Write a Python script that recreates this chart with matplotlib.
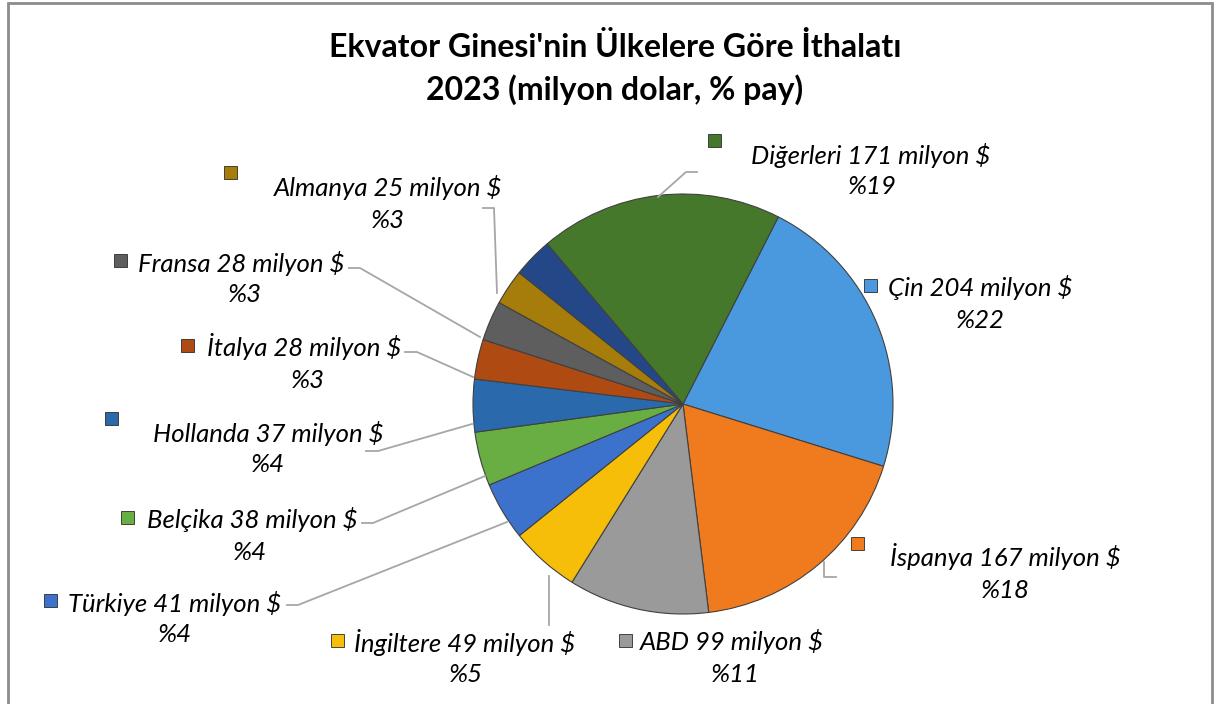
import matplotlib
matplotlib.use('Agg')
import matplotlib.pyplot as plt
from matplotlib.patches import Rectangle
from matplotlib.lines import Line2D

# ---- data ----
countries = ['Çin', 'İspanya', 'ABD', 'İngiltere', 'Türkiye', 'Belçika',
             'Hollanda', 'İtalya', 'Fransa', 'Almanya', '', 'Diğerleri']
values = [204, 167, 99, 49, 41, 38, 37, 28, 28, 25, 28, 171]
pct_labels = ['%22', '%18', '%11', '%5', '%4', '%4', '%4', '%3', '%3', '%3', '', '%19']
title = "Ekvator Ginesi'nin Ülkelere Göre İthalatı\n2023 (milyon dolar, % pay)"

colors = ['#4A99DE', '#F07A1E', '#9A9A9A', '#F6BE08', '#3D72CC', '#68AE42',
          '#2A69AB', '#AE4A12', '#5E5E5E', '#A67D0B', '#244887', '#46782C']

W, H = 1219, 704
fig = plt.figure(figsize=(W / 100, H / 100), dpi=100)
ax = fig.add_axes([0, 0, 1, 1])

def Y(y):
    return H - y

cx, cy, R = 683, 404, 210
ax.pie(values, colors=colors, startangle=63, counterclock=False,
       center=(cx, Y(cy)), radius=R,
       wedgeprops=dict(edgecolor='#404040', linewidth=0.8))
ax.set_xlim(0, W)
ax.set_ylim(0, H)
ax.set_aspect('equal')
ax.axis('off')

# ---- label layout (image pixel coords) ----
# index: (marker xy, line1 center xy, line2 center xy, leader points)
layout = {
    0: ((870, 285), (980, 287), (980, 320), None),
    1: ((857, 543), (1005, 557), (1005, 590), [(824, 562), (824, 577), (836, 577)]),
    2: ((625, 640), (732, 642), (735, 675), None),
    3: ((337, 640), (465, 642), (466, 675), [(549, 576), (549, 625)]),
    4: ((50, 600), (175, 603), (175, 635), [(287, 605), (298, 605), (507, 522)]),
    5: ((127, 517), (252, 520), (250, 552), [(362, 523), (373, 523), (485, 476)]),
    6: ((111, 418), (268, 433), (268, 465), [(366, 451), (378, 451), (472, 424)]),
    7: ((187, 345), (304, 347), (308, 380), [(405, 352), (417, 352), (473, 377)]),
    8: ((120, 260), (241, 263), (245, 295), [(349, 268), (360, 268), (480, 337)]),
    9: ((230, 172), (388, 188), (388, 220), [(483, 208), (494, 208), (497, 293)]),
    11: ((714, 140), (871, 155), (872, 187), [(658, 197), (686, 172), (697, 172)]),
}

lab_font = dict(family=['Lato', 'DejaVu Sans'], style='italic', fontsize=18.5, color='black')
for i, (mk, l1, l2, leader) in layout.items():
    if leader:
        xs = [p[0] for p in leader]
        ys = [Y(p[1]) for p in leader]
        ax.add_line(Line2D(xs, ys, color='#A6A6A6', lw=1.3, zorder=1))
    s = 13
    ax.add_patch(Rectangle((mk[0] - s / 2, Y(mk[1]) - s / 2), s, s,
                           facecolor=colors[i], edgecolor='#2b2b2b', lw=0.6, zorder=3))
    ax.text(l1[0], Y(l1[1]), f"{countries[i]} {values[i]} milyon $",
            ha='center', va='center', **lab_font)
    ax.text(l2[0], Y(l2[1]), pct_labels[i], ha='center', va='center', **lab_font)

# title
t1, t2 = title.split('\n')
tfont = dict(family=['Lato', 'DejaVu Sans'], weight='bold', fontsize=23, color='black')
ax.text(615, Y(47), t1, ha='center', va='center', **tfont)
ax.text(615, Y(90), t2, ha='center', va='center', **tfont)

# chart border
ax.add_patch(Rectangle((8, Y(712)), 1204, 709, fill=False,
                       edgecolor='#8C8C8C', lw=2, zorder=5, clip_on=False))

fig.savefig('out.png', dpi=100)
